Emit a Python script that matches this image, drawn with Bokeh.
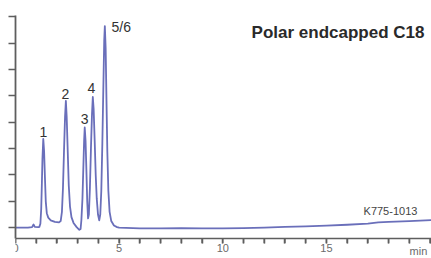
from bokeh.plotting import figure
from bokeh.models import Range1d, FixedTicker, LinearAxis, ColumnDataSource
from bokeh.core.properties import value
from bokeh.embed import file_html
from bokeh.resources import INLINE

# chromatogram trace (time in min, signal in y-tick units)
time_min = [0.00, 0.60, 0.80, 0.87, 0.93, 1.10,
            1.15, 1.20, 1.24, 1.27, 1.30, 1.34, 1.38, 1.42, 1.46, 1.51, 1.58, 1.70, 1.90, 2.10,
            2.18, 2.24, 2.29, 2.34, 2.39, 2.43, 2.47, 2.52, 2.57, 2.63, 2.70, 2.80, 2.95, 3.08, 3.14,
            3.18, 3.23, 3.27, 3.31, 3.34, 3.38, 3.42, 3.46, 3.50,
            3.54, 3.59, 3.64, 3.69, 3.73, 3.77, 3.82, 3.87, 3.92, 3.98, 4.04,
            4.09, 4.14, 4.19, 4.24, 4.28, 4.31, 4.35, 4.39, 4.43, 4.48, 4.54, 4.62, 4.75, 4.90,
            5.00, 6.00, 7.00, 8.00, 9.00, 10.00, 11.00, 12.00, 13.00, 14.00, 15.00, 16.00,
            17.00, 17.50, 18.00, 19.00, 20.07]
signal = [0.00, 0.00, 0.02, 0.12, 0.03, 0.02,
          0.03, 0.15, 0.70, 1.60, 2.60, 3.37, 2.90, 1.90, 1.00, 0.55, 0.38, 0.28, 0.22, 0.20,
          0.25, 0.60, 1.50, 2.90, 4.20, 4.81, 4.20, 2.90, 1.60, 0.80, 0.40, 0.18, 0.02, -0.08, -0.05,
          0.30, 1.10, 2.20, 3.30, 3.80, 3.30, 2.20, 1.00, 0.35,
          0.50, 1.50, 3.00, 4.30, 4.96, 4.50, 3.30, 2.00, 1.10, 0.50, 0.28,
          0.50, 1.40, 3.20, 5.40, 7.10, 7.65, 6.80, 4.80, 2.90, 1.40, 0.60, 0.25, 0.08, 0.02,
          0.00, -0.03, -0.03, -0.02, -0.03, -0.03, -0.02, 0.00, 0.03, 0.05, 0.08, 0.11,
          0.15, 0.20, 0.22, 0.25, 0.29]

# peak labels
peak_names = ["1", "2", "3", "4"]
peak_label_x = [1.34, 2.41, 3.33, 3.66]
peak_label_y = [3.63, 5.09, 4.13, 5.30]
peak56_name = "5/6"
peak56_x = 4.63
peak56_y = 7.61

x_ticks = list(range(0, 21))
x_tick_labels = {0: "0", 5: "5", 10: "10", 15: "15"}
y_ticks = list(range(0, 9))

title_text = "Polar endcapped C18"
code_text = "K775-1013"
unit_text = "min"

AXIS_Y = -0.40          # where the time axis crosses the signal scale
TICK_LEN = 0.19         # tick length in signal units (about 5 px)

p = figure(frame_width=416, frame_height=243, output_backend="svg",
           toolbar_location=None, min_border_left=15, min_border_top=15,
           min_border_right=0, min_border_bottom=0,
           x_range=Range1d(0, 20.07), y_range=Range1d(-1.17, 8.05),
           x_axis_location=None)
p.background_fill_color = "white"
p.border_fill_color = "white"
p.outline_line_color = None
p.xgrid.visible = False
p.ygrid.visible = False

axis_col = "#5e5e5e"

# time axis placed at the bottom of the signal scale
xa = LinearAxis(ticker=FixedTicker(ticks=x_ticks, minor_ticks=[]),
                fixed_location=AXIS_Y)
xa.major_label_overrides = {t: x_tick_labels.get(t, "") for t in x_ticks}
xa.axis_line_color = axis_col
xa.axis_line_width = 1.7
xa.major_tick_line_color = axis_col
xa.major_tick_line_width = 1.5
xa.major_tick_in = 0
xa.major_tick_out = 5
xa.minor_tick_in = 0
xa.minor_tick_out = 0
xa.major_label_standoff = 1
xa.major_label_text_font = "Liberation Sans"
xa.major_label_text_font_size = "11px"
xa.major_label_text_color = "#6a6a6a"
p.add_layout(xa, "below")

# tick marks of the time axis, drawn from the same tick list
p.segment(x0=x_ticks, y0=[AXIS_Y] * len(x_ticks), x1=x_ticks,
          y1=[AXIS_Y - TICK_LEN] * len(x_ticks),
          line_color=axis_col, line_width=1.5)

ya = p.yaxis[0]
ya.ticker = FixedTicker(ticks=y_ticks, minor_ticks=[])
ya.bounds = (AXIS_Y, 8.05)
ya.major_label_overrides = {t: "" for t in y_ticks}
ya.axis_line_color = axis_col
ya.axis_line_width = 1.8
ya.major_tick_line_color = axis_col
ya.major_tick_line_width = 1.6
ya.major_tick_in = 0
ya.major_tick_out = 7
ya.minor_tick_out = 0
ya.minor_tick_in = 0
ya.major_label_standoff = 0

p.line(time_min, signal, line_color="#6a6fba", line_width=1.8, line_join="round")

src = ColumnDataSource(dict(x=peak_label_x, y=peak_label_y, t=peak_names))
p.text(x="x", y="y", text="t", source=src, text_align="center",
       text_baseline="middle", text_font=value("Liberation Sans"),
       text_font_size="14px", text_color="#333333")
p.text(x=[peak56_x], y=[peak56_y], text=[peak56_name], text_align="left",
       text_baseline="middle", text_font=value("Liberation Sans"),
       text_font_size="14px", text_color="#333333")
p.text(x=[18.09], y=[0.64], text=[code_text], text_align="center",
       text_baseline="middle", text_font=value("Liberation Sans"),
       text_font_size="11px", text_color="#444444")
p.text(x=[19.73], y=[7.42], text=[title_text], text_align="right",
       text_baseline="middle", text_font=value("Liberation Sans"),
       text_font_style="bold", text_font_size="17px", text_color="#2a2a2a")
p.text(x=[19.44], y=[-0.87], text=[unit_text], text_align="center",
       text_baseline="middle", text_font=value("Liberation Sans"),
       text_font_size="11px", text_color="#6a6a6a")

open("out.html", "w").write(file_html(p, INLINE))
